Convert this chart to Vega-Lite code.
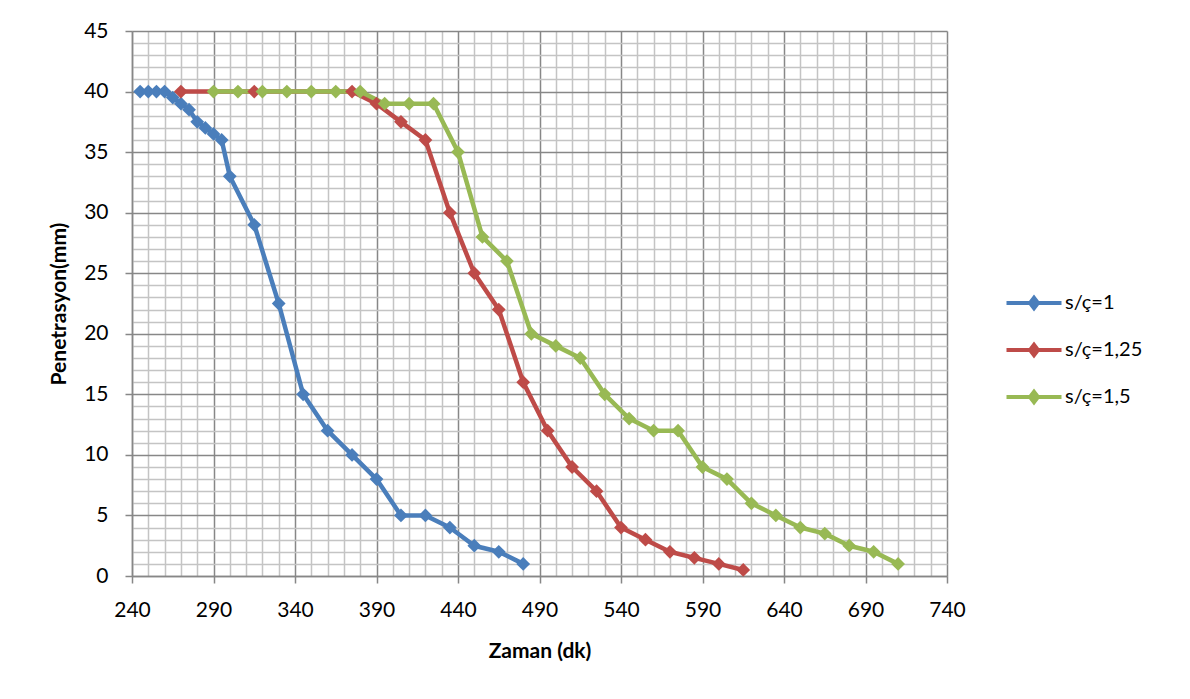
{
  "$schema": "https://vega.github.io/schema/vega-lite/v6.json",
  "width": 815,
  "height": 545,
  "autosize": {"type": "none"},
  "padding": {"left": 132, "top": 31, "right": 243, "bottom": 123},
  "background": "white",
  "config": {"view": {"stroke": null}, "font": "Lato"},
  "data": {
    "values": [
      {"seri": "s/ç=1", "t": 245, "p": 40},
      {"seri": "s/ç=1", "t": 250, "p": 40},
      {"seri": "s/ç=1", "t": 255, "p": 40},
      {"seri": "s/ç=1", "t": 260, "p": 40},
      {"seri": "s/ç=1", "t": 265, "p": 39.5},
      {"seri": "s/ç=1", "t": 270, "p": 39},
      {"seri": "s/ç=1", "t": 275, "p": 38.5},
      {"seri": "s/ç=1", "t": 280, "p": 37.5},
      {"seri": "s/ç=1", "t": 285, "p": 37},
      {"seri": "s/ç=1", "t": 290, "p": 36.5},
      {"seri": "s/ç=1", "t": 295, "p": 36},
      {"seri": "s/ç=1", "t": 300, "p": 33},
      {"seri": "s/ç=1", "t": 315, "p": 29},
      {"seri": "s/ç=1", "t": 330, "p": 22.5},
      {"seri": "s/ç=1", "t": 345, "p": 15},
      {"seri": "s/ç=1", "t": 360, "p": 12},
      {"seri": "s/ç=1", "t": 375, "p": 10},
      {"seri": "s/ç=1", "t": 390, "p": 8},
      {"seri": "s/ç=1", "t": 405, "p": 5},
      {"seri": "s/ç=1", "t": 420, "p": 5},
      {"seri": "s/ç=1", "t": 435, "p": 4},
      {"seri": "s/ç=1", "t": 450, "p": 2.5},
      {"seri": "s/ç=1", "t": 465, "p": 2},
      {"seri": "s/ç=1", "t": 480, "p": 1},
      {"seri": "s/ç=1,25", "t": 270, "p": 40},
      {"seri": "s/ç=1,25", "t": 315, "p": 40},
      {"seri": "s/ç=1,25", "t": 375, "p": 40},
      {"seri": "s/ç=1,25", "t": 390, "p": 39},
      {"seri": "s/ç=1,25", "t": 405, "p": 37.5},
      {"seri": "s/ç=1,25", "t": 420, "p": 36},
      {"seri": "s/ç=1,25", "t": 435, "p": 30},
      {"seri": "s/ç=1,25", "t": 450, "p": 25},
      {"seri": "s/ç=1,25", "t": 465, "p": 22},
      {"seri": "s/ç=1,25", "t": 480, "p": 16},
      {"seri": "s/ç=1,25", "t": 495, "p": 12},
      {"seri": "s/ç=1,25", "t": 510, "p": 9},
      {"seri": "s/ç=1,25", "t": 525, "p": 7},
      {"seri": "s/ç=1,25", "t": 540, "p": 4},
      {"seri": "s/ç=1,25", "t": 555, "p": 3},
      {"seri": "s/ç=1,25", "t": 570, "p": 2},
      {"seri": "s/ç=1,25", "t": 585, "p": 1.5},
      {"seri": "s/ç=1,25", "t": 600, "p": 1},
      {"seri": "s/ç=1,25", "t": 615, "p": 0.5},
      {"seri": "s/ç=1,5", "t": 290, "p": 40},
      {"seri": "s/ç=1,5", "t": 305, "p": 40},
      {"seri": "s/ç=1,5", "t": 320, "p": 40},
      {"seri": "s/ç=1,5", "t": 335, "p": 40},
      {"seri": "s/ç=1,5", "t": 350, "p": 40},
      {"seri": "s/ç=1,5", "t": 365, "p": 40},
      {"seri": "s/ç=1,5", "t": 380, "p": 40},
      {"seri": "s/ç=1,5", "t": 395, "p": 39},
      {"seri": "s/ç=1,5", "t": 410, "p": 39},
      {"seri": "s/ç=1,5", "t": 425, "p": 39},
      {"seri": "s/ç=1,5", "t": 440, "p": 35},
      {"seri": "s/ç=1,5", "t": 455, "p": 28},
      {"seri": "s/ç=1,5", "t": 470, "p": 26},
      {"seri": "s/ç=1,5", "t": 485, "p": 20},
      {"seri": "s/ç=1,5", "t": 500, "p": 19},
      {"seri": "s/ç=1,5", "t": 515, "p": 18},
      {"seri": "s/ç=1,5", "t": 530, "p": 15},
      {"seri": "s/ç=1,5", "t": 545, "p": 13},
      {"seri": "s/ç=1,5", "t": 560, "p": 12},
      {"seri": "s/ç=1,5", "t": 575, "p": 12},
      {"seri": "s/ç=1,5", "t": 590, "p": 9},
      {"seri": "s/ç=1,5", "t": 605, "p": 8},
      {"seri": "s/ç=1,5", "t": 620, "p": 6},
      {"seri": "s/ç=1,5", "t": 635, "p": 5},
      {"seri": "s/ç=1,5", "t": 650, "p": 4},
      {"seri": "s/ç=1,5", "t": 665, "p": 3.5},
      {"seri": "s/ç=1,5", "t": 680, "p": 2.5},
      {"seri": "s/ç=1,5", "t": 695, "p": 2},
      {"seri": "s/ç=1,5", "t": 710, "p": 1}
    ]
  },
  "layer": [
    {
      "mark": {"type": "line", "strokeWidth": 4.5, "strokeJoin": "round"},
      "encoding": {
        "x": {
          "field": "t", "type": "quantitative",
          "scale": {"domain": [240, 740], "nice": false, "zero": false},
          "axis": {
            "values": [240,250,260,270,280,290,300,310,320,330,340,350,360,370,380,390,400,410,420,430,440,450,460,470,480,490,500,510,520,530,540,550,560,570,580,590,600,610,620,630,640,650,660,670,680,690,700,710,720,730,740],
            "tickCount": 200,
            "format": "d",
            "grid": true,
            "gridColor": {"condition": {"test": "(datum.value - 240) % 50 === 0", "value": "#878787"}, "value": "#c4c4c4"},
            "gridWidth": 1.5,
            "tickColor": {"condition": {"test": "(datum.value - 240) % 50 === 0", "value": "#878787"}, "value": "transparent"},
            "tickSize": 7,
            "tickWidth": 1.5,
            "domainColor": "#878787",
            "domainWidth": 1.5,
            "labelExpr": "(datum.value - 240) % 50 === 0 ? datum.label : ''",
            "labelFont": "Lato", "labelFontSize": 21, "labelColor": "#000000",
            "labelPadding": 16, "labelOverlap": false, "labelFlush": false,
            "title": "Zaman (dk)", "titleFont": "Lato", "titleFontSize": 21,
            "titleFontWeight": "bold", "titleColor": "#000000", "titlePadding": 20
          }
        },
        "y": {
          "field": "p", "type": "quantitative",
          "scale": {"domain": [0, 45], "nice": false},
          "axis": {
            "values": [0,1,2,3,4,5,6,7,8,9,10,11,12,13,14,15,16,17,18,19,20,21,22,23,24,25,26,27,28,29,30,31,32,33,34,35,36,37,38,39,40,41,42,43,44,45],
            "tickCount": 200,
            "format": "d",
            "grid": true,
            "gridColor": {"condition": {"test": "datum.value % 5 === 0", "value": "#878787"}, "value": "#c4c4c4"},
            "gridWidth": 1.5,
            "tickColor": {"condition": {"test": "datum.value % 5 === 0", "value": "#878787"}, "value": "transparent"},
            "tickSize": 7,
            "tickWidth": 1.5,
            "domainColor": "#878787",
            "domainWidth": 1.5,
            "labelExpr": "datum.value % 5 === 0 ? datum.label : ''",
            "labelFont": "Lato", "labelFontSize": 21, "labelColor": "#000000",
            "labelPadding": 17, "labelOverlap": false, "labelFlush": false,
            "title": "Penetrasyon(mm)", "titleFont": "Lato", "titleFontSize": 21,
            "titleFontWeight": "bold", "titleColor": "#000000", "titlePadding": 14
          }
        },
        "color": {
          "field": "seri", "type": "nominal",
          "scale": {"domain": ["s/ç=1", "s/ç=1,25", "s/ç=1,5"], "range": ["#4A7EBB", "#BE4B48", "#98B954"]},
          "legend": null
        }
      }
    },
    {
      "mark": {"type": "point", "shape": "diamond", "filled": true, "size": 190, "opacity": 1},
      "encoding": {
        "x": {"field": "t", "type": "quantitative"},
        "y": {"field": "p", "type": "quantitative"},
        "color": {
          "field": "seri", "type": "nominal",
          "legend": {
            "orient": "none",
            "legendX": 892,
            "legendY": 262,
            "title": null,
            "padding": 0,
            "symbolType": "M-2.75,-0.2L2.75,-0.2L2.75,0.2L-2.75,0.2Z M-0.65,0L0,-0.85L0.65,0L0,0.85Z",
            "symbolSize": 400,
            "symbolStrokeWidth": 0,
            "symbolOpacity": 1,
            "labelFont": "Lato", "labelFontSize": 20, "labelColor": "#000000",
            "labelOffset": 21,
            "rowPadding": 27
          }
        }
      }
    }
  ],
  "resolve": {"legend": {"color": "independent"}}
}
